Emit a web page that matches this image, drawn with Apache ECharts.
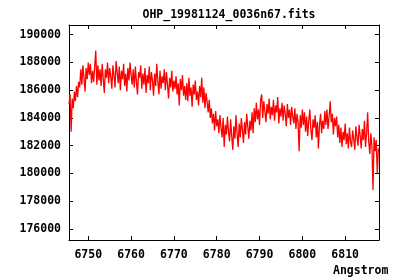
<!DOCTYPE html>
<html>
<head>
<meta charset="utf-8">
<script src="https://cdn.jsdelivr.net/npm/echarts@6/dist/echarts.min.js"></script>
<style>html,body{margin:0;padding:0;background:#fff;}#c{width:400px;height:280px;}</style>
</head>
<body>
<div id="c"></div>
<script>
const titleText = "OHP_19981124_0036n67.fits";
const xAxisName = "Angstrom";
const xTicks = [6750, 6760, 6770, 6780, 6790, 6800, 6810];
const yTicks = [176000, 178000, 180000, 182000, 184000, 186000, 188000, 190000];
const wavelengthStart = 6745.5;
const wavelengthStep = 0.25;
const flux = [
185000,185700,183000,185400,184700,185900,185200,186300,185500,186600,
186200,187500,186400,187800,186900,185900,187600,186800,188000,187100,
187900,186500,187400,186600,187700,188850,186400,187800,186700,187500,
186300,187900,186800,185800,187500,186900,188000,186500,187600,187000,
186100,187800,187100,186200,188100,187300,186500,187700,186000,187400,
186800,187900,186300,187200,185900,187600,186700,188000,187100,186400,
187500,186200,187700,186600,185700,187300,186900,187800,186100,187200,
186400,187600,185800,187100,186500,187700,186000,187300,186700,185600,
187200,186300,187900,186600,185700,187400,186100,187000,186500,187500,
186000,187300,186400,185400,186900,186200,187400,185900,186700,186100,
187000,185700,186500,184900,186800,186000,187100,185600,186300,185300,
186500,185200,186900,185600,186200,184800,186400,185700,186700,185300,
185900,184900,186300,185500,186900,185100,186200,184700,185800,185200,
184400,185300,184000,184700,183600,184300,183100,184500,183400,183900,
182900,184200,183300,182600,184000,181900,183500,182800,184100,183000,
182300,183900,182700,181700,183400,182500,184200,182900,181900,183600,
182600,184000,183100,182200,183700,182800,184300,183400,182500,183800,
183100,184400,182900,184700,183700,185100,183900,184600,183500,185300,
185700,184000,185200,184500,183700,185000,184300,185400,183900,184800,
184200,185300,183800,184900,184400,185500,183600,184700,184100,185100,
183800,184900,184300,183400,185000,184000,184600,183500,184800,184100,
183600,184700,183200,184300,183700,181600,184200,183300,184600,183500,
184400,183000,184100,182700,183800,184600,183100,182400,183900,183300,
184200,182600,183700,181800,183500,184300,182900,183800,183200,184500,
183500,184600,183200,184100,185200,183700,184300,182800,184000,183400,
184100,182600,183500,182200,183300,181900,183000,182400,183600,182100,
182900,181800,183300,182300,181900,183100,182500,181700,183400,182600,
182000,183500,182700,181800,183200,182400,183800,181900,182900,184400,
182300,181400,182900,181900,178800,182600,181600,182400,180000,181800
];
const xMin = 6745.5, xMax = 6817.9, yMin = 175200, yMax = 190700;

const data = flux.map((v, i) => [wavelengthStart + i * wavelengthStep, v]);
const font = "DejaVu Sans Mono";
const lbl = {fontFamily: font, fontWeight: 'bold', fontSize: 11.5, color: '#000'};
const axisLine = {show: true, lineStyle: {color: '#000', width: 1}};

const chart = echarts.init(document.getElementById('c'), null, {renderer: 'canvas'});
chart.setOption({
  animation: false,
  backgroundColor: '#fff',
  title: {
    text: titleText, left: 224, top: 4, textAlign: 'center',
    textStyle: {fontFamily: font, fontWeight: 'bold', fontSize: 11.5, color: '#000'}
  },
  graphic: [{
    type: 'text', left: 333, top: 265,
    style: {text: xAxisName, fontFamily: font, fontWeight: 'bold', fontSize: 11.5, fill: '#000'}
  }],
  grid: {left: 69, right: 21, top: 25, bottom: 40, containLabel: false, show: false},
  xAxis: [{
    type: 'value', position: 'bottom', min: xMin, max: xMax,
    axisLine: axisLine, splitLine: {show: false},
    axisTick: {show: true, inside: true, length: 4, customValues: xTicks, lineStyle: {color: '#000'}},
    axisLabel: {show: true, customValues: xTicks, margin: 9, ...lbl, formatter: v => String(v)}
  }, {
    type: 'value', position: 'top', min: xMin, max: xMax,
    axisLine: axisLine, splitLine: {show: false},
    axisTick: {show: true, inside: true, length: 4, customValues: xTicks, lineStyle: {color: '#000'}},
    axisLabel: {show: false}
  }],
  yAxis: [{
    type: 'value', position: 'left', min: yMin, max: yMax,
    axisLine: axisLine, splitLine: {show: false},
    axisTick: {show: true, inside: true, length: 4, customValues: yTicks, lineStyle: {color: '#000'}},
    axisLabel: {show: true, customValues: yTicks, margin: 8, ...lbl, formatter: v => String(v)}
  }, {
    type: 'value', position: 'right', min: yMin, max: yMax,
    axisLine: axisLine, splitLine: {show: false},
    axisTick: {show: true, inside: true, length: 4, customValues: yTicks, lineStyle: {color: '#000'}},
    axisLabel: {show: false}
  }],
  series: [{
    type: 'line', data: data, xAxisIndex: 0, yAxisIndex: 0,
    showSymbol: false, symbol: 'none',
    lineStyle: {color: '#ff0000', width: 1.3}, itemStyle: {color: '#ff0000'}
  }]
});
</script>
</body>
</html>
